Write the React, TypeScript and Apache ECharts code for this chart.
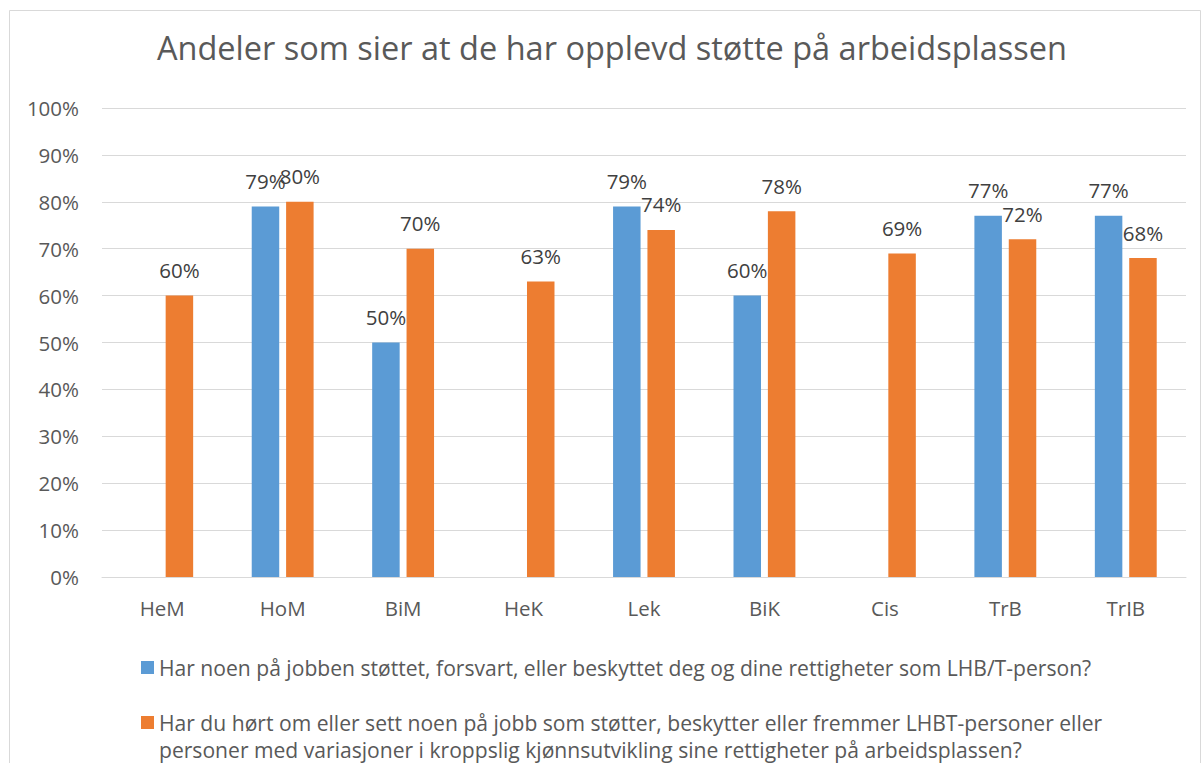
import React, { useEffect, useRef } from "react";
import * as echarts from "echarts";

const categories = ["HeM", "HoM", "BiM", "HeK", "Lek", "BiK", "Cis", "TrB", "TrIB"];
const seriesNames = [
  "Har noen på jobben støttet, forsvart, eller beskyttet deg og dine rettigheter som LHB/T-person?",
  "Har du hørt om eller sett noen på jobb som støtter, beskytter eller fremmer LHBT-personer eller personer med variasjoner i kroppslig kjønnsutvikling sine rettigheter på arbeidsplassen?",
];
const blueValues: (number | null)[] = [null, 79, 50, null, 79, 60, null, 77, 77];
const orangeValues: number[] = [60, 80, 70, 63, 74, 78, 69, 72, 68];
const titleText = "Andeler som sier at de har opplevd støtte på arbeidsplassen";

const FONT = "'Open Sans', sans-serif";
const FS = 20.5;
const LFS = 21.1;

export default function App() {
  const ref = useRef<HTMLDivElement>(null);
  useEffect(() => {
    if (!ref.current) return;
    const chart = echarts.init(ref.current, undefined, { renderer: "svg" });
    const labelStyle = {
      show: true,
      position: "top" as const,
      distance: 15,
      formatter: "{c}%",
      color: "#404040",
      fontSize: FS,
      fontFamily: FONT,
    };
    chart.setOption({
      animation: false,
      backgroundColor: "#ffffff",
      textStyle: { fontFamily: FONT },
      title: {
        text: titleText,
        left: 157,
        top: 31,
        padding: 0,
        textStyle: { color: "#595959", fontSize: 32.5, fontWeight: "normal", fontFamily: FONT },
      },
      grid: { left: 102, right: 16, top: 108, bottom: 186 },
      legend: [
        {
          data: [seriesNames[0]],
          orient: "vertical",
          left: 141,
          top: 654,
          padding: 0,
          itemWidth: 13,
          itemHeight: 13,
          itemGap: 0,
          icon: "rect",
          textStyle: { color: "#595959", fontSize: LFS, fontFamily: FONT, lineHeight: 27 },
        },
        {
          data: [seriesNames[1]],
          orient: "vertical",
          left: 141,
          top: 682,
          padding: 0,
          itemWidth: 13,
          itemHeight: 13,
          itemGap: 0,
          icon: "rect",
          formatter: (name: string) => "\n" + name.replace("eller personer", "eller\npersoner"),
          textStyle: {
            color: "#595959",
            fontSize: LFS,
            fontFamily: FONT,
            lineHeight: 27,
          },
        },
      ],
      xAxis: {
        type: "category",
        data: categories,
        axisLine: { show: true, lineStyle: { color: "#D9D9D9", width: 1 } },
        axisTick: { show: false },
        axisLabel: { color: "#595959", fontSize: FS, fontFamily: FONT, margin: 20 },
      },
      yAxis: {
        type: "value",
        min: 0,
        max: 100,
        interval: 10,
        axisLine: { show: false },
        axisTick: { show: false },
        splitLine: { lineStyle: { color: "#D9D9D9", width: 1 } },
        axisLabel: { color: "#595959", fontSize: FS, fontFamily: FONT, margin: 23, formatter: "{value}%" },
      },
      graphic: [
        {
          type: "rect",
          shape: { x: 9.5, y: 10.5, width: 1191, height: 800 },
          style: { fill: "none", stroke: "#D9D9D9", lineWidth: 1 },
          silent: true,
          z: -1,
        },
      ],
      series: [
        {
          name: seriesNames[0],
          type: "bar",
          data: blueValues,
          barWidth: 27.5,
          barGap: "25%",
          itemStyle: { color: "#5B9BD5" },
          label: labelStyle,
        },
        {
          name: seriesNames[1],
          type: "bar",
          data: orangeValues,
          barWidth: 27.5,
          itemStyle: { color: "#ED7D31" },
          label: labelStyle,
        },
      ],
    });
    return () => chart.dispose();
  }, []);
  return (
    <div
      ref={ref}
      style={{ position: "fixed", left: 0, top: 0, width: 1202, height: 763 }}
    />
  );
}
